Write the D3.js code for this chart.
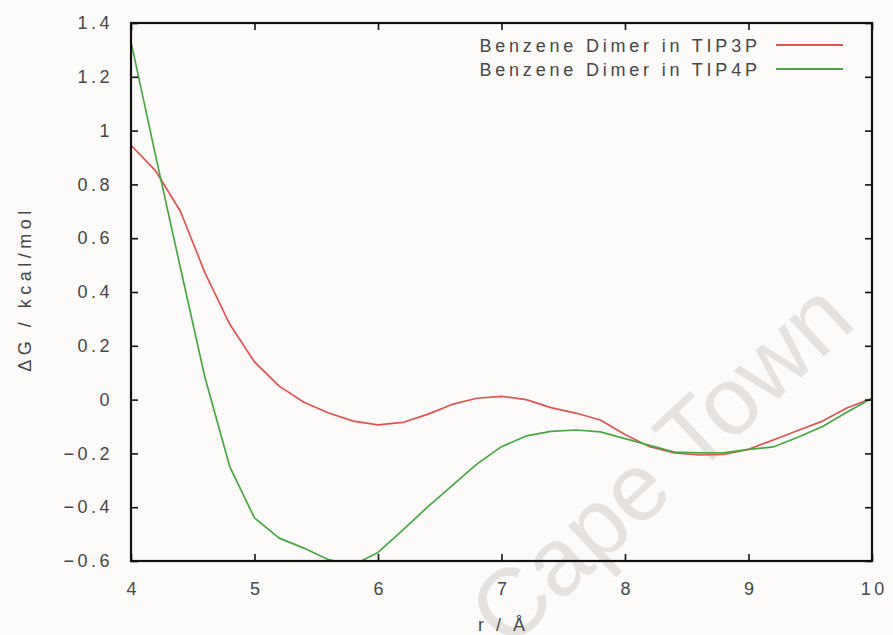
<!DOCTYPE html>
<html>
<head>
<meta charset="utf-8">
<script src="https://cdn.jsdelivr.net/npm/d3@7"></script>
<style>
  html, body { margin: 0; padding: 0; background: #fdfbf9; }
  svg { display: block; }
  text { font-family: "Liberation Sans", Arial, Helvetica, sans-serif; }
</style>
</head>
<body>
<svg id="chart" width="893" height="635"></svg>
<script>
// ---- data ----
const rValues = [4.0, 4.2, 4.4, 4.6, 4.8, 5.0, 5.2, 5.4, 5.6, 5.8, 6.0, 6.2, 6.4, 6.6, 6.8, 7.0,
                 7.2, 7.4, 7.6, 7.8, 8.0, 8.2, 8.4, 8.6, 8.8, 9.0, 9.2, 9.4, 9.6, 9.8, 10.0];
const tip3p = [0.945, 0.85, 0.70, 0.47, 0.28, 0.14, 0.05, -0.01, -0.05, -0.08, -0.094, -0.085, -0.055, -0.018, 0.005, 0.012,
               0.0, -0.03, -0.05, -0.076, -0.13, -0.175, -0.198, -0.206, -0.204, -0.185, -0.15, -0.115, -0.08, -0.03, 0.005];
const tip4p = [1.33, 0.905, 0.49, 0.08, -0.25, -0.44, -0.515, -0.552, -0.595, -0.615, -0.568, -0.485, -0.40, -0.32, -0.24, -0.175,
               -0.135, -0.118, -0.113, -0.12, -0.145, -0.17, -0.195, -0.198, -0.198, -0.185, -0.176, -0.14, -0.10, -0.046, 0.005];
const seriesNames = ["Benzene Dimer in TIP3P", "Benzene Dimer in TIP4P"];
const xTicks = [4, 5, 6, 7, 8, 9, 10];
const xTickLabels = ["4", "5", "6", "7", "8", "9", "10"];
const yTicks = [-0.6, -0.4, -0.2, 0, 0.2, 0.4, 0.6, 0.8, 1, 1.2, 1.4];
const yTickLabels = ["\u22120.6", "\u22120.4", "\u22120.2", "0", "0.2", "0.4", "0.6", "0.8", "1", "1.2", "1.4"];
const xLabel = "r / \u00c5";
const yLabel = "\u0394G / kcal/mol";
const watermark = "Cape Town";

// ---- layout ----
const W = 893, H = 635;
const m = { left: 131, right: 21, top: 23, bottom: 74 };
const pw = W - m.left - m.right, ph = H - m.top - m.bottom;
const colors = ["#dc5552", "#47a843"];
const fontSize = 18, ls = 3.5;
const textColor = "#474747";

const svg = d3.select("#chart");
svg.append("rect").attr("width", W).attr("height", H).attr("fill", "#fdfbf9");

const x = d3.scaleLinear().domain([4, 10]).range([m.left, m.left + pw]);
const y = d3.scaleLinear().domain([-0.6, 1.4]).range([m.top + ph, m.top]);

// watermark
svg.append("text")
  .attr("transform", "translate(508,651) rotate(-43)")
  .attr("font-size", 96)
  .attr("fill", "#e6e2e0")
  .text(watermark);

// clip
svg.append("clipPath").attr("id", "plotclip")
  .append("rect").attr("x", m.left).attr("y", m.top).attr("width", pw).attr("height", ph);

// curves
const line = d3.line().x((d, i) => x(rValues[i])).y(d => y(d));
[tip3p, tip4p].forEach((s, k) => {
  svg.append("path")
    .datum(s)
    .attr("clip-path", "url(#plotclip)")
    .attr("fill", "none")
    .attr("stroke", colors[k])
    .attr("stroke-width", 1.7)
    .attr("stroke-linejoin", "round")
    .attr("d", line);
});

// axes
function styleAxis(g) {
  g.select(".domain").remove();
  g.selectAll(".tick line").attr("stroke", "#111").attr("stroke-width", 1.6);
  g.selectAll(".tick text")
    .attr("fill", textColor)
    .attr("font-size", fontSize)
    .attr("letter-spacing", ls)
    .attr("font-family", "\"Liberation Sans\", Arial, Helvetica, sans-serif");
}
const gx = svg.append("g").attr("transform", `translate(0,${m.top + ph})`)
  .call(d3.axisBottom(x).tickValues(xTicks).tickFormat((d, i) => xTickLabels[i])
    .tickSizeInner(-7).tickSizeOuter(0).tickPadding(21));
styleAxis(gx);
gx.selectAll(".tick text").attr("dx", ls / 2);

const gxt = svg.append("g").attr("transform", `translate(0,${m.top})`)
  .call(d3.axisTop(x).tickValues(xTicks).tickFormat("").tickSizeInner(-7).tickSizeOuter(0));
styleAxis(gxt);

const gy = svg.append("g").attr("transform", `translate(${m.left},0)`)
  .call(d3.axisLeft(y).tickValues(yTicks).tickFormat((d, i) => yTickLabels[i])
    .tickSizeInner(-7).tickSizeOuter(0).tickPadding(18));
styleAxis(gy);

const gyr = svg.append("g").attr("transform", `translate(${m.left + pw},0)`)
  .call(d3.axisRight(y).tickValues(yTicks).tickFormat("").tickSizeInner(-7).tickSizeOuter(0));
styleAxis(gyr);

// frame
svg.append("rect")
  .attr("x", m.left).attr("y", m.top).attr("width", pw).attr("height", ph)
  .attr("fill", "none").attr("stroke", "#111").attr("stroke-width", 2.2);

// axis labels
svg.append("text")
  .attr("x", x(7) + ls / 2).attr("y", 631)
  .attr("text-anchor", "middle")
  .attr("font-size", fontSize).attr("letter-spacing", ls)
  .attr("fill", textColor)
  .text(xLabel);

svg.append("text")
  .attr("transform", `translate(31,${(m.top + m.top + ph) / 2 - 3}) rotate(-90)`)
  .attr("text-anchor", "middle")
  .attr("font-size", fontSize).attr("letter-spacing", 4.5)
  .attr("fill", textColor)
  .text(yLabel);

// legend
const legendY = [45, 69];
seriesNames.forEach((name, k) => {
  svg.append("text")
    .attr("x", 757 + 3.8).attr("y", legendY[k] + 6.5)
    .attr("text-anchor", "end")
    .attr("font-size", fontSize).attr("letter-spacing", 3.8)
    .attr("fill", textColor)
    .text(name);
  svg.append("line")
    .attr("x1", 776).attr("x2", 843)
    .attr("y1", legendY[k]).attr("y2", legendY[k])
    .attr("stroke", colors[k]).attr("stroke-width", 1.8);
});
</script>
</body>
</html>
